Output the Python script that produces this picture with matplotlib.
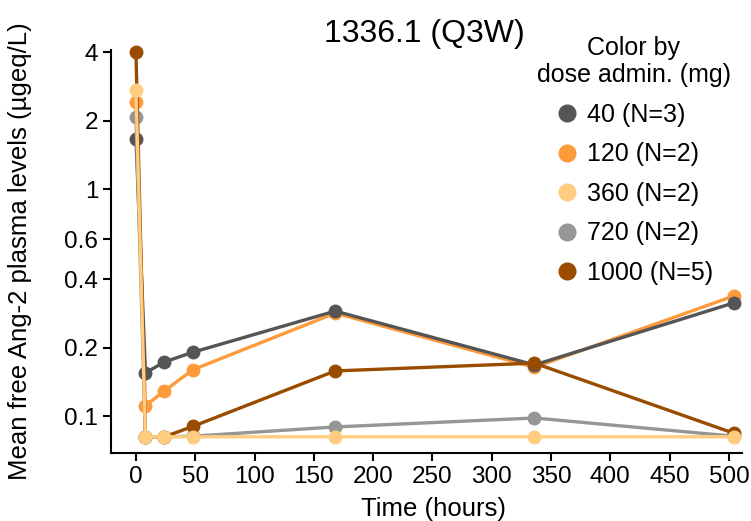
import matplotlib.pyplot as plt
from matplotlib.ticker import FixedLocator, FixedFormatter, NullLocator

plt.rcParams['font.family'] = ['Liberation Sans', 'DejaVu Sans']

time = [0, 8, 24, 48, 168, 336, 504]

dose40 = [1.66, 0.155, 0.173, 0.191, 0.290, 0.168, 0.315]
dose120 = [2.42, 0.111, 0.129, 0.160, 0.284, 0.164, 0.338]
dose360 = [2.73, 0.081, 0.081, 0.081, 0.081, 0.081, 0.081]
dose720 = [2.08, 0.081, 0.081, 0.0815, 0.0895, 0.098, 0.0815]
dose1000 = [4.0, 0.081, 0.081, 0.090, 0.158, 0.171, 0.084]

labels = ['40 (N=3)', '120 (N=2)', '360 (N=2)', '720 (N=2)', '1000 (N=5)']
colors = ['#555555', '#fd9a3a', '#ffcc80', '#969696', '#994c00']
series = [dose40, dose120, dose360, dose720, dose1000]
zorders = [4, 3, 7, 5, 6]

yticks = [0.1, 0.2, 0.4, 0.6, 1, 2, 4]
ytick_labels = ['0.1', '0.2', '0.4', '0.6', '1', '2', '4']
xticks = list(range(0, 501, 50))

fig = plt.figure(figsize=(7.51, 5.21), dpi=100)
ax = fig.add_axes([0.1474, 0.1305, 0.8406, 0.7735])

for vals, lab, col, z in zip(series, labels, colors, zorders):
    ax.plot(time, vals, color=col, lw=2.4, marker='o', ms=9, label=lab, zorder=z,
            clip_on=False)

ax.set_yscale('log')
ax.set_ylim(0.0687, 4.1)
ax.set_xlim(-21.3, 511)
ax.yaxis.set_major_locator(FixedLocator(yticks))
ax.yaxis.set_major_formatter(FixedFormatter(ytick_labels))
ax.yaxis.set_minor_locator(NullLocator())
ax.set_xticks(xticks)

for s in ['top', 'right']:
    ax.spines[s].set_visible(False)
for s in ['left', 'bottom']:
    ax.spines[s].set_linewidth(1.5)
ax.tick_params(axis='both', direction='out', length=5.5, width=1.5, labelsize=17.5, pad=3.5)

ax.set_xlabel('Time (hours)', fontsize=18.5, labelpad=-1)
ax.xaxis.set_label_coords(0.512, -0.108)
ax.set_ylabel('Mean free Ang-2 plasma levels (\u00b5geq/L)', fontsize=18.5)
ax.yaxis.set_label_coords(-0.124, 0.5)
fig.text(0.565, 0.935, '1336.1 (Q3W)', ha='center', va='center', fontsize=23)

handles = [plt.Line2D([], [], color=c, marker='o', ls='', ms=12) for c in colors]
leg = ax.legend(handles, labels, title='Color by\ndose admin. (mg)', loc='upper right',
                bbox_to_anchor=(1.003, 0.975), bbox_transform=fig.transFigure,
                frameon=False, fontsize=18, title_fontsize=18,
                labelspacing=0.62, handletextpad=0.3, handlelength=1.0)
leg._legend_box.align = 'center'
leg.get_title().set_multialignment('center')

fig.savefig('out.png', dpi=100)
